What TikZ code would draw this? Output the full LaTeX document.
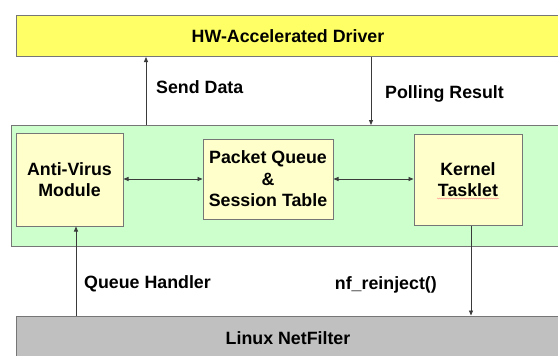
\documentclass[tikz,border=0pt]{standalone}
\usepackage{fontspec}
\setmainfont{Liberation Sans}
\usetikzlibrary{arrows.meta,decorations.pathmorphing}
\definecolor{drvyellow}{HTML}{FFFF66}
\definecolor{kerngreen}{HTML}{CCFFCC}
\definecolor{modcream}{HTML}{FFFFCC}
\definecolor{nfgray}{HTML}{C0C0C0}
\definecolor{edgegray}{HTML}{767676}
\definecolor{linkgray}{HTML}{3A3A3A}
\tikzset{
  every node/.style={font=\fontsize{17.8}{21.5}\selectfont\bfseries},
  layer/.style={draw=edgegray, line width=1pt, inner sep=0pt, align=center},
  module/.style={draw=edgegray, line width=1pt, fill=modcream, inner sep=0pt, align=center},
  label/.style={inner sep=0pt},
  link/.style={draw=linkgray, line width=0.8pt, -{Triangle[length=5pt,width=4pt]}},
  duplex/.style={draw=linkgray, line width=0.8pt, {Triangle[length=5pt,width=4pt]}-{Triangle[length=5pt,width=4pt]}},
}
\begin{document}
\begin{tikzpicture}[x=1pt,y=-1pt]
  \clip (0,0) rectangle (558,356);
  \fill[white] (0,0) rectangle (558,356);

  % layers
  \node[layer, fill=drvyellow, minimum width=544pt, minimum height=41.5pt] (hw) at (288,35.75) {HW-Accelerated Driver};
  \node[layer, fill=kerngreen, minimum width=560pt, minimum height=121pt, anchor=north west] (kernel) at (11,125) {};
  \node[layer, fill=nfgray, minimum width=544pt, minimum height=44pt] (nf) at (288,338) {Linux NetFilter};

  % modules inside the kernel layer
  \node[module, minimum width=107pt, minimum height=93pt] (av) at (69.5,179.5) {Anti-Virus\\Module};
  \node[module, minimum width=130pt, minimum height=80pt] (pq) at (268,179) {Packet Queue\\\&\\Session Table};
  \node[module, minimum width=108pt, minimum height=91pt] (kt) at (468,179.5) {Kernel\\Tasklet};
  % spell-check wave under "Tasklet"
  \draw[red!45, line width=0.4pt, decorate, decoration={snake, amplitude=0.5pt, segment length=2pt}]
    (437,198.5) -- (499,198.5);

  % columns of the vertical links
  \coordinate (sendx) at (146,0);
  \coordinate (pollx) at (371,0);
  \coordinate (queuex) at (76,0);
  \coordinate (reinjx) at (471,0);

  % links between layers
  \draw[link] (kernel.north -| sendx) -- (hw.south -| sendx);
  \draw[link] (hw.south -| pollx) -- (kernel.north -| pollx);
  \draw[link] (nf.north -| queuex) -- (av.south -| queuex);
  \draw[link] (kt.south -| reinjx) -- (nf.north -| reinjx);

  % links between modules
  \draw[duplex] (pq.west -| av.east) -- (pq.west);
  \draw[duplex] (pq.east) -- (pq.east -| kt.west);

  % link labels
  \node[label, anchor=west] (lsend) at (156,87) {Send Data};
  \node[label, anchor=west] (lpoll) at (385,94) {Polling Result};
  \node[label, anchor=west] (lqueue) at (84,284) {Queue Handler};
  \node[label, anchor=east] (lreinj) at (437,285) {nf\_reinject()};
\end{tikzpicture}
\end{document}
